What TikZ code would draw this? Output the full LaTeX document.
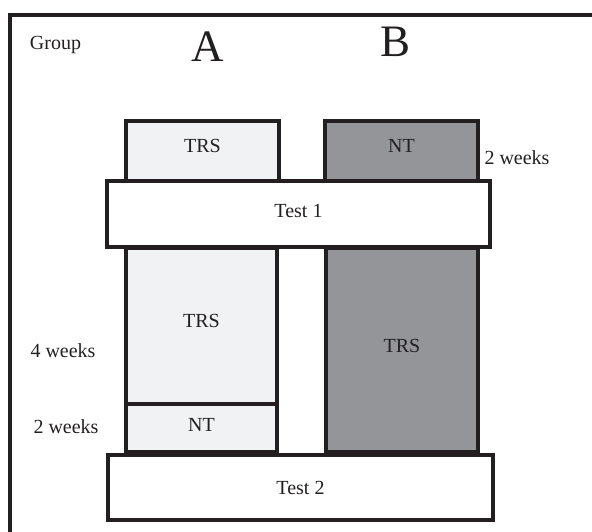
\documentclass[tikz,border=0pt]{standalone}
\usepackage{fontspec}
\setmainfont{Liberation Serif}
\definecolor{ink}{HTML}{231F20}
\definecolor{lightA}{HTML}{F1F2F4}
\definecolor{darkB}{HTML}{939598}
\begin{document}
\begin{tikzpicture}[x=1pt,y=-1pt,
  box/.style={draw=ink, line width=3.3pt, rectangle, inner sep=0pt, text=ink,
    font=\fontsize{20}{24}\selectfont, text height=14pt, text depth=#1},
  box/.default=0.8pt,
  lbl/.style={inner sep=0pt, anchor=base, text=ink, font=\fontsize{20}{24}\selectfont},
  big/.style={inner sep=0pt, anchor=base, text=ink, font=\fontsize{45}{50}\selectfont}]
\useasboundingbox (0,0) rectangle (592,532);
\draw[ink, line width=3.5pt] (10,533) -- (10,15) -- (593,15);
\node[lbl] (group) at (55.5,50) {Group};
\node[big] (ga) at (207.5,62) {A};
\node[big] (gb) at (396,57) {B};
% top boxes
\node[box=10.8pt, fill=lightA, minimum width=153, minimum height=60] (trs1) at (202.5,151) {TRS};
\node[box=10.8pt, fill=darkB, minimum width=153, minimum height=60] (nt1) at (401.5,151) {NT};
\node[lbl] (w2r) at (517,165) {2 weeks};
% test 1
\node[box=6.8pt, fill=white, minimum width=383, minimum height=66] (test1) at (298.5,214) {Test 1};
% group A lower
\node[box=10.8pt, fill=lightA, minimum width=151, minimum height=156] (trs2) at (201.5,326) {TRS};
\node[box=6.8pt, fill=lightA, minimum width=151, minimum height=48] (nt2) at (201.5,428) {NT};
% group B lower
\node[box=9pt, fill=darkB, minimum width=152, minimum height=204] (trs3) at (402,350) {TRS};
\node[lbl] (w4) at (63,357) {4 weeks};
\node[lbl] (w2l) at (66,433) {2 weeks};
% test 2
\node[box, fill=white, minimum width=385, minimum height=65] (test2) at (300.5,487.5) {Test 2};
\end{tikzpicture}
\end{document}
